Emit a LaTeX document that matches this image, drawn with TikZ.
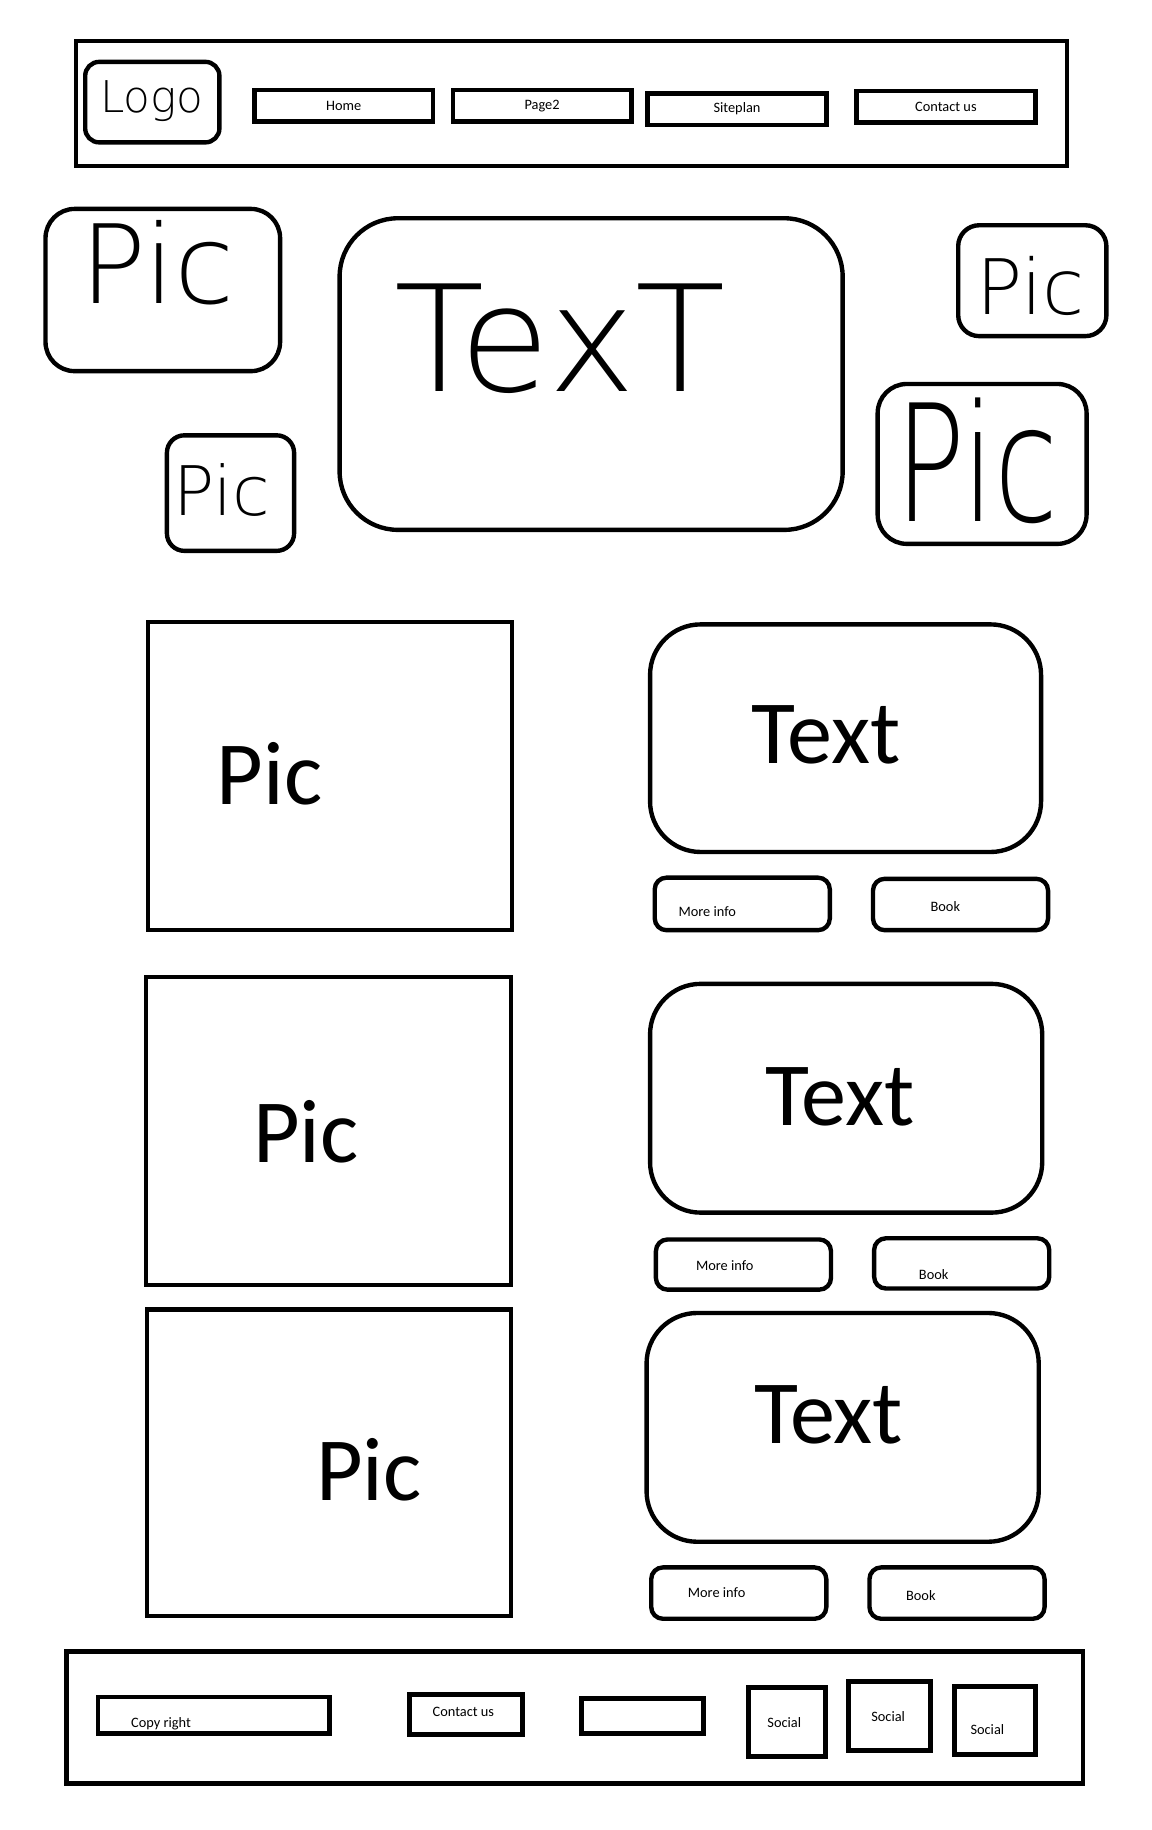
\documentclass[tikz,border=0pt]{standalone}
\usepackage{fontspec}
\setmainfont{Carlito}
\newfontfamily\handfont{DejaVu Sans ExtraLight}
\usepackage{tikz}
\usetikzlibrary{positioning}
\tikzset{
  sz/.style 2 args={minimum width=#1*0.3mm, minimum height=#2*0.3mm},
  barbox/.style={draw, line width=3.2pt, inner sep=0pt, outer sep=0pt},
  navbtn/.style={draw, line width=3.4pt, inner sep=0pt, outer sep=0pt, font=\fontsize{10.5}{12}\selectfont},
  sketchbox/.style={draw, line width=3.2pt, inner sep=0pt, outer sep=0pt},
  picbox/.style={draw, line width=3pt, inner sep=0pt, outer sep=0pt},
  cardbox/.style={draw, line width=3.2pt, rounded corners=1.3cm, inner sep=0pt, outer sep=0pt},
  infobtn/.style={draw, line width=3.2pt, rounded corners=0.3cm, inner sep=0pt, outer sep=0pt},
  footbtn/.style={draw, line width=3.6pt, inner sep=0pt, outer sep=0pt, font=\fontsize{10.5}{12}\selectfont},
  smalltext/.style={inner sep=0pt, font=\fontsize{10.5}{12}\selectfont},
  bigtext/.style={inner sep=0pt, font=\fontsize{66}{70}\selectfont},
  handtext/.style={inner sep=0pt, font=\handfont\fontsize{#1}{#1}\selectfont}
}
\begin{document}
\begin{tikzpicture}[x=0.03cm, y=-0.03cm]
\useasboundingbox (0,0) rectangle (987,1568);

\node[barbox, sz={849}{107}] (header) at (489.5,88.5) {};
\node[sketchbox, rounded corners=0.36cm, sz={115}{69}] (logo) at (130.5,87.5) {};
\node[handtext=32] (logotext) at (130,87) {Logo};
\node[navbtn, sz={153}{27}] (home) at (294.5,90.5) {Home};
\node[navbtn, sz={153}{27}] (page2) at (464.5,90.5) {Page2};
\node[navbtn, sz={153}{27}] (siteplan) at (631.5,93.5) {Siteplan};
\node[navbtn, sz={153}{27}] (contact) at (810.5,91.5) {Contact us};

\node[sketchbox, rounded corners=0.75cm, sz={201}{139}] (pica) at (139.5,248.5) {};
\node[handtext=80] (picatext) at (135,225) {Pic};
\node[sketchbox, rounded corners=0.45cm, sz={109}{99}] (picb) at (197.5,422.5) {};
\node[handtext=50] (picbtext) at (190,420) {Pic};
\node[sketchbox, rounded corners=1.5cm, sz={431}{267}] (intro) at (506.5,320.5) {};
\node[handtext=108] (introtext) at (480,290) {TexT};
\node[sketchbox, rounded corners=0.54cm, sz={127}{95}] (picc) at (884.5,240.5) {};
\node[handtext=56] (picctext) at (883,245) {Pic};
\node[sketchbox, rounded corners=0.75cm, sz={179}{137}] (picd) at (841.5,397.5) {};
\node[handtext=85, yscale=1.4] (picdtext) at (837,395) {Pic};

\node[picbox, sz={312}{264}] (rowapic) at (283,665) {};
\node[bigtext] (rowapictext) at (231,663) {Pic};
\node[cardbox, sz={335}{195}] (rowacard) at (724.5,632.5) {};
\node[bigtext] (rowacardtext) at (708,630) {Text};
\node[infobtn, sz={150}{45}] (rowainfo) at (636,774.5) {};
\node[smalltext] (rowainfotext) at (606,781) {More info};
\node[infobtn, sz={150}{44}] (rowabook) at (823,775) {};
\node[smalltext] (rowabooktext) at (810,777) {Book};

\node[picbox, sz={313}{264}] (rowbpic) at (281.5,969) {};
\node[bigtext] (rowbpictext) at (262,970) {Pic};
\node[cardbox, sz={336}{196}] (rowbcard) at (725,941) {};
\node[bigtext] (rowbcardtext) at (720,940) {Text};
\node[infobtn, sz={150}{43}] (rowbinfo) at (637,1083.5) {};
\node[smalltext] (rowbinfotext) at (621,1084) {More info};
\node[infobtn, sz={150}{43}] (rowbbook) at (824,1082.5) {};
\node[smalltext] (rowbbooktext) at (800,1092) {Book};

\node[picbox, sz={312}{263}] (rowcpic) at (282,1253.5) {};
\node[bigtext] (rowcpictext) at (316,1259) {Pic};
\node[cardbox, sz={336}{196}] (rowccard) at (722,1223) {};
\node[bigtext] (rowccardtext) at (710,1212) {Text};
\node[infobtn, sz={150}{44}] (rowcinfo) at (633,1365) {};
\node[smalltext] (rowcinfotext) at (614,1365) {More info};
\node[infobtn, sz={150}{44}] (rowcbook) at (820,1365) {};
\node[smalltext] (rowcbooktext) at (789,1367) {Book};

\node[barbox, sz={871}{113}] (footer) at (492.5,1471.5) {};
\node[footbtn, sz={198}{31}] (copyright) at (183,1469.5) {};
\node[smalltext] (copyrighttext) at (138,1477) {Copy right};
\node[footbtn, sz={97}{34}] (footcontact) at (399.5,1469) {};
\node[smalltext] (footcontacttext) at (397,1467) {Contact us};
\node[footbtn, sz={105}{30}] (blank) at (550.5,1470) {};
\node[footbtn, sz={66}{59}] (sociala) at (674,1475.5) {};
\node[smalltext] (socialatext) at (672,1476) {Social};
\node[footbtn, sz={70}{59}] (socialb) at (762,1470.5) {};
\node[smalltext] (socialbtext) at (761,1471) {Social};
\node[footbtn, sz={69}{58}] (socialc) at (852.5,1474) {};
\node[smalltext] (socialctext) at (846,1482) {Social};
\end{tikzpicture}
\end{document}
